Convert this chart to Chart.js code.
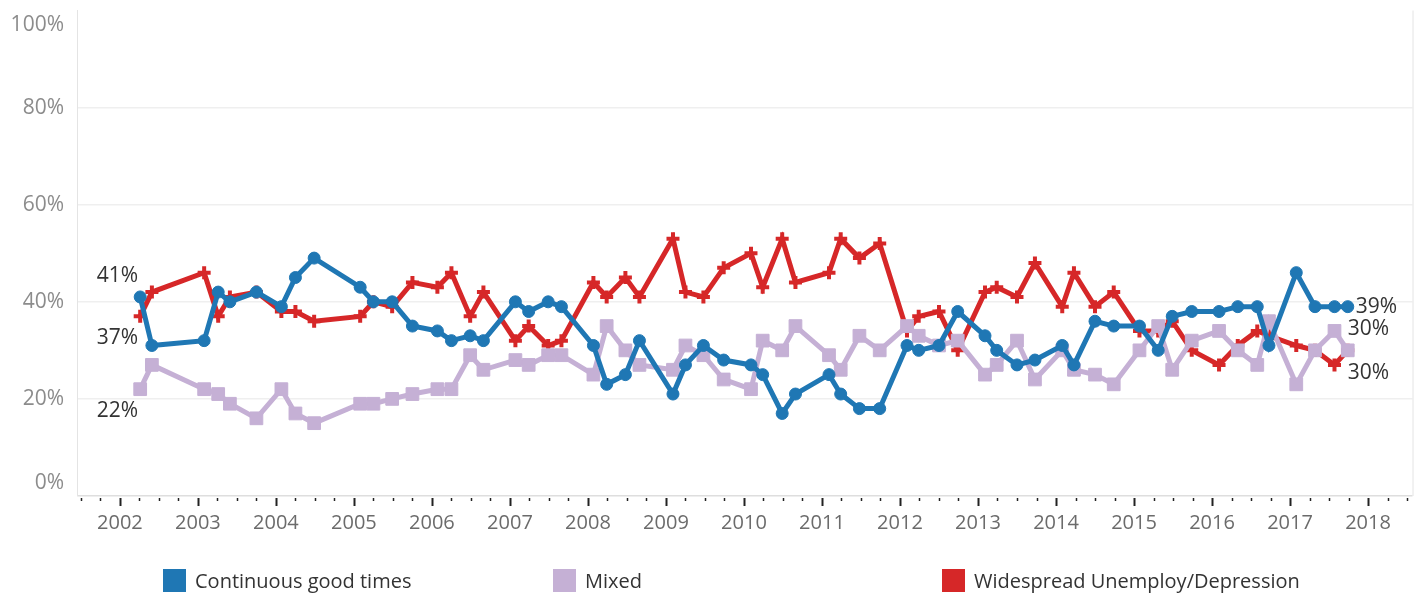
<!DOCTYPE html>
<html>
<head>
<meta charset="utf-8">
<script src="https://cdn.jsdelivr.net/npm/chart.js@4.4.1/dist/chart.umd.min.js"></script>
<style>
  html, body { margin: 0; padding: 0; background: #fff; }
  #wrap { position: relative; width: 1423px; height: 594px; }
  #chart { position: absolute; left: 0; top: 0; }
  .key { position: absolute; top: 569px; height: 23px; display: flex; align-items: center;
         font-family: "Open Sans", sans-serif; font-size: 20px; color: #333; white-space: nowrap; }
  .key span { display: inline-block; width: 23px; height: 23px; margin-right: 9px; }
</style>
</head>
<body>
<div id="wrap">
  <canvas id="chart" width="1423" height="594"></canvas>
  <div class="key" style="left:163px"><span style="background:#1f77b4"></span>Continuous good times</div>
  <div class="key" style="left:553px"><span style="background:#c5b0d5"></span>Mixed</div>
  <div class="key" style="left:942px"><span style="background:#d62728"></span>Widespread Unemploy/Depression</div>
</div>
<script>
// survey dates as decimal years
const dates = [2002.26, 2002.41, 2003.08, 2003.26, 2003.41, 2003.75, 2004.07, 2004.25, 2004.49,
  2005.08, 2005.25, 2005.49, 2005.75, 2006.07, 2006.25, 2006.49, 2006.66,
  2007.07, 2007.24, 2007.49, 2007.66, 2008.07, 2008.24, 2008.48, 2008.66,
  2009.09, 2009.25, 2009.48, 2009.74, 2010.09, 2010.24, 2010.49, 2010.66,
  2011.09, 2011.24, 2011.48, 2011.74, 2012.09, 2012.24, 2012.50, 2012.74,
  2013.09, 2013.24, 2013.50, 2013.73, 2014.08, 2014.23, 2014.50, 2014.74,
  2015.07, 2015.31, 2015.49, 2015.74, 2016.09, 2016.33, 2016.58, 2016.73,
  2017.08, 2017.32, 2017.57, 2017.74];

const goodTimes = [41, 31, 32, 42, 40, 42, 39, 45, 49,
  43, 40, 40, 35, 34, 32, 33, 32,
  40, 38, 40, 39, 31, 23, 25, 32,
  21, 27, 31, 28, 27, 25, 17, 21,
  25, 21, 18, 18, 31, 30, 31, 38,
  33, 30, 27, 28, 31, 27, 36, 35,
  35, 30, 37, 38, 38, 39, 39, 31,
  46, 39, 39, 39];

const mixed = [22, 27, 22, 21, 19, 16, 22, 17, 15,
  19, 19, 20, 21, 22, 22, 29, 26,
  28, 27, 29, 29, 25, 35, 30, 27,
  26, 31, 29, 24, 22, 32, 30, 35,
  29, 26, 33, 30, 35, 33, 31, 32,
  25, 27, 32, 24, 30, 26, 25, 23,
  30, 35, 26, 32, 34, 30, 27, 36,
  23, 30, 34, 30];

const unemploy = [37, 42, 46, 37, 41, 42, 38, 38, 36,
  37, 40, 39, 44, 43, 46, 37, 42,
  32, 35, 31, 32, 44, 41, 45, 41,
  53, 42, 41, 47, 50, 43, 53, 44,
  46, 53, 49, 52, 34, 37, 38, 30,
  42, 43, 41, 48, 39, 46, 39, 42,
  34, 34, 36, 30, 27, 31, 34, 33,
  31, 30, 27, 30];

const yearTicks = [2002, 2003, 2004, 2005, 2006, 2007, 2008, 2009, 2010,
  2011, 2012, 2013, 2014, 2015, 2016, 2017, 2018];
const pctTicks = [0, 20, 40, 60, 80, 100];

const FONT = '"Open Sans", sans-serif';

function pts(values) {
  return dates.map((d, i) => ({ x: d, y: values[i] }));
}

// y labels, quarter ticks, border, end labels
const overlay = {
  id: 'overlay',
  afterDraw(chart) {
    const { ctx, chartArea: a, scales: { x, y } } = chart;
    ctx.save();

    ctx.strokeStyle = '#e4e4e4';
    ctx.lineWidth = 1;
    ctx.beginPath();
    ctx.moveTo(a.right + 0.5, a.top);
    ctx.lineTo(a.right + 0.5, a.bottom);
    ctx.stroke();

    ctx.font = '21px ' + FONT;
    ctx.fillStyle = '#8c8c8c';
    ctx.textAlign = 'right';
    ctx.textBaseline = 'middle';
    pctTicks.forEach(v => {
      let py = y.getPixelForValue(v);
      py = Math.min(Math.max(py, a.top + 15), a.bottom - 13);
      ctx.fillText(v + '%', 64, py);
    });

    ctx.strokeStyle = '#222';
    for (let q = Math.ceil(x.min * 4) / 4; q <= x.max; q += 0.25) {
      const px = Math.round(x.getPixelForValue(q)) + 0.5;
      const major = Math.abs(q - Math.round(q)) < 0.01;
      ctx.lineWidth = major ? 2 : 1.5;
      ctx.beginPath();
      ctx.moveTo(px, a.bottom + 2);
      ctx.lineTo(px, a.bottom + (major ? 10 : 5));
      ctx.stroke();
    }

    ctx.fillStyle = '#333';
    ctx.font = '21px ' + FONT;
    const m = i => chart.getDatasetMeta(i).data;
    const last = dates.length - 1;
    ctx.textAlign = 'right';
    let p = m(0)[0]; ctx.fillText(goodTimes[0] + '%', p.x - 2, p.y - 21);
    p = m(2)[0]; ctx.fillText(unemploy[0] + '%', p.x - 2, p.y + 22);
    p = m(1)[0]; ctx.fillText(mixed[0] + '%', p.x - 2, p.y + 22);
    ctx.textAlign = 'left';
    p = m(0)[last]; ctx.fillText(goodTimes[last] + '%', p.x + 8, p.y);
    p = m(1)[last]; ctx.fillText(mixed[last] + '%', p.x, p.y - 21);
    p = m(2)[last]; ctx.fillText(unemploy[last] + '%', p.x, p.y + 23);

    ctx.restore();
  }
};

new Chart(document.getElementById('chart'), {
  type: 'line',
  data: {
    datasets: [
      {
        label: 'Continuous good times',
        data: pts(goodTimes),
        borderColor: '#1f77b4',
        backgroundColor: '#1f77b4',
        borderWidth: 5,
        pointStyle: 'circle',
        pointRadius: 6,
        pointBorderWidth: 1,
      },
      {
        label: 'Mixed',
        data: pts(mixed),
        borderColor: '#c5b0d5',
        backgroundColor: '#c5b0d5',
        borderWidth: 5,
        pointStyle: 'rect',
        pointRadius: 9,
        pointBorderWidth: 1,
      },
      {
        label: 'Widespread Unemploy/Depression',
        data: pts(unemploy),
        borderColor: '#d62728',
        backgroundColor: '#d62728',
        borderWidth: 5,
        pointStyle: 'cross',
        pointRadius: 6.5,
        pointBorderWidth: 4,
      },
    ],
  },
  options: {
    responsive: false,
    animation: false,
    layout: { padding: { top: 5, right: 10, left: 0, bottom: 0 } },
    plugins: { legend: { display: false }, tooltip: { enabled: false } },
    elements: { line: { tension: 0 } },
    scales: {
      x: {
        type: 'linear',
        min: 2001.45,
        max: 2018.57,
        afterBuildTicks: (axis) => { axis.ticks = yearTicks.map(v => ({ value: v })); },
        afterFit: (axis) => { axis.height = 98; },
        grid: { display: false, drawTicks: false },
        border: { display: false },
        ticks: {
          autoSkip: false,
          maxRotation: 0,
          padding: 15,
          color: '#6b6b6b',
          font: { family: FONT, size: 20 },
          callback: (v) => String(v),
        },
      },
      y: {
        min: 0,
        max: 100,
        afterBuildTicks: (axis) => { axis.ticks = pctTicks.map(v => ({ value: v })); },
        afterFit: (axis) => { axis.width = 77; },
        grid: {
          drawTicks: false,
          lineWidth: 1.5,
          color: (c) => (c.tick.value === 0 ? '#dedede' : c.tick.value === 100 ? 'rgba(0,0,0,0)' : '#efefef'),
        },
        border: { display: true, color: '#e4e4e4', width: 1 },
        ticks: { display: false },
      },
    },
  },
  plugins: [overlay],
});
</script>
</body>
</html>
